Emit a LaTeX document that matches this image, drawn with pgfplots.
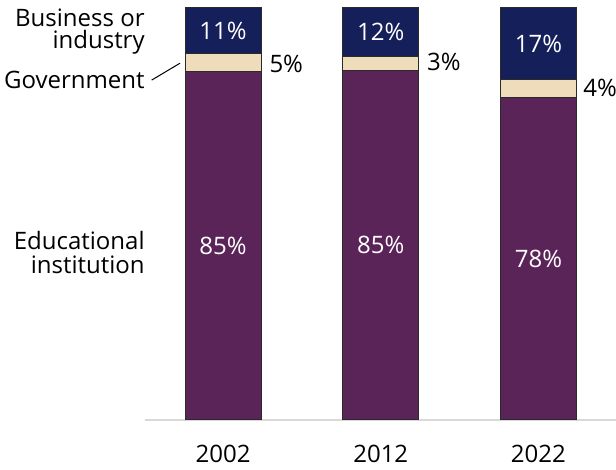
\documentclass[border=0pt]{standalone}
\usepackage{fontspec}
\setmainfont{Open Sans}
\usepackage{pgfplots}
\pgfplotsset{compat=1.18}
\definecolor{navy}{HTML}{15205B}
\definecolor{plum}{HTML}{5B2459}
\definecolor{beige}{HTML}{EEDCBB}
\definecolor{edge}{HTML}{2A2A2A}
\begin{document}
\fontsize{12}{11}\selectfont
\begin{tikzpicture}
\pgfplotsset{
  common/.style={
    scale only axis, width=235.5pt, height=206pt,
    xmin=-0.4952, xmax=2.4921, ymin=0, ymax=100,
    clip=false,
  }
}
\begin{axis}[common, name=ax,
  ybar stacked, bar width=38pt,
  axis x line*=bottom, axis y line=none,
  x axis line style={draw=black!15, line width=0.8pt, -},
  xtick={0,1,2}, xticklabels={2002,2012,2022},
  major tick length=0pt,
  xticklabel style={font=\fontsize{12}{11}\selectfont, anchor=north, inner sep=0pt, yshift=-12.5pt},
  ytick=\empty,
]
\addplot[fill=plum, draw=edge, line width=0.5pt] coordinates {(0,84.5) (1,84.9) (2,78.2)};
\addplot[fill=beige, draw=edge, line width=0.5pt] coordinates {(0,4.4) (1,3.4) (2,4.4)};
\addplot[fill=navy, draw=edge, line width=0.5pt] coordinates {(0,11.1) (1,11.7) (2,17.4)};
\node[anchor=east, align=right, inner sep=0pt, font=\fontsize{12}{11.4}\selectfont] at (rel axis cs:0,0.943) {Business or\\industry};
\node[anchor=east, inner sep=0pt] at (rel axis cs:0,0.825) {Government};
\node[anchor=east, align=right, inner sep=0pt, font=\fontsize{12}{12}\selectfont] at (rel axis cs:0,0.407) {Educational\\institution};
\end{axis}
\begin{axis}[common, hide axis,
  nodes near coords, point meta=explicit symbolic,
  every node near coord/.append style={font=\fontsize{12}{11}\selectfont, inner sep=0pt},
]
\addplot[draw=black, line width=0.5pt, forget plot] coordinates {(-0.4528,82.5) (-0.2732,86.6)};
\addplot[draw=none, nodes near coords style={text=white, anchor=center}] coordinates {
 (0,42.25) [85\%] (1,42.45) [85\%] (2,39.1) [78\%]
 (0,94.45) [11\%] (1,94.15) [12\%] (2,91.3) [17\%]
};
\addplot[draw=none, nodes near coords style={text=black, anchor=west}] coordinates {
 (0.292,86.4) [5\%] (1.292,86.9) [3\%] (2.283,80.5) [4\%]
};
\end{axis}
\pgfresetboundingbox
\path[use as bounding box] ([shift={(-72.5pt,-25pt)}]ax.south west) rectangle ([shift={(0pt,4pt)}]ax.north east);
\end{tikzpicture}
\end{document}
